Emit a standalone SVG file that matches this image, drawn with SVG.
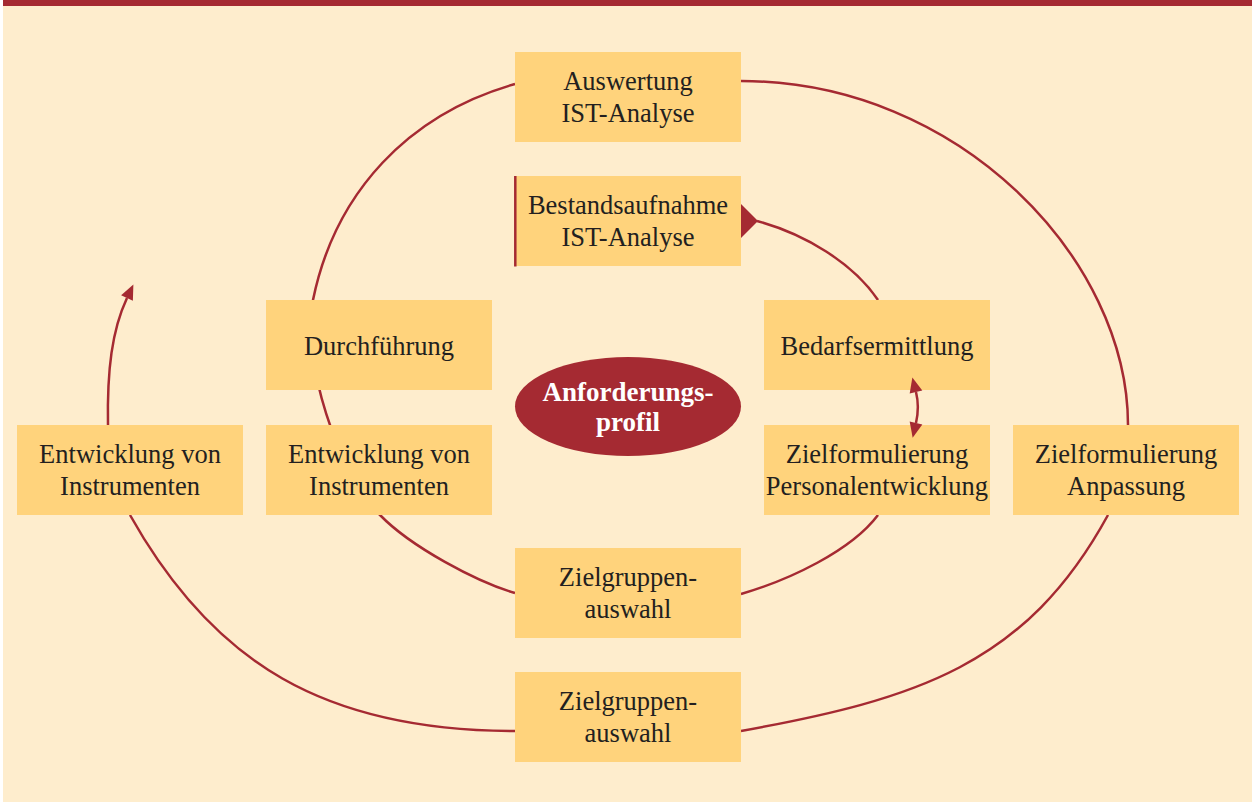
<svg xmlns="http://www.w3.org/2000/svg" width="1255" height="802" viewBox="0 0 1255 802">
  <style>
    .box { fill: #ffd37c; }
    .lbl { font-family: "Liberation Serif", "Times New Roman", serif; font-size: 26.5px; fill: #231f20; text-anchor: middle; }
    .wlbl { font-family: "Liberation Serif", "Times New Roman", serif; font-size: 27px; font-weight: bold; fill: #ffffff; text-anchor: middle; }
    .con { fill: none; stroke: #a52a32; stroke-width: 2.5; }
    .head { fill: #a52a32; }
  </style>
  <defs>
    <marker id="arr" markerUnits="userSpaceOnUse" viewBox="-1 -7 17 14" markerWidth="17" markerHeight="14" refX="0" refY="0" orient="auto-start-reverse" overflow="visible">
      <path d="M0,-6.5 L15,0 L0,6.5 z" fill="#a52a32"/>
    </marker>
  </defs>
  <rect x="0" y="0" width="1255" height="802" fill="#ffffff"/>
  <rect x="3" y="0" width="1249" height="802" fill="#feedcd"/>
  <rect x="3" y="0" width="1249" height="6" fill="#a52a32"/>

  <g id="connectors">
    <path class="con" d="M741,81 C960,81 1128,260 1128,425"/>
    <path class="con" d="M1108,515 C1026,665 917,699 741,731"/>
    <path class="con" d="M515,731 C325,731 213,663 130,515"/>
    <path class="con" d="M108,425 C107,370 112,330 127,298" marker-end="url(#arr)"/>
    <path class="con" d="M515,84 C409,114 335,192 313,300 C301,359 338,473 380,515 C411,547 477,582 515,593"/>
    <path class="con" d="M741,594 C789,580 851,551 878,515"/>
    <path class="con" d="M757,221 C805,234 853,263 878,300"/>
    <polygon class="head" points="740,203 758,221 740,239"/>
  </g>

  <g id="n-auswertung">
    <rect class="box" x="515" y="52" width="226" height="90"/>
    <text class="lbl" x="628" y="90">Auswertung</text>
    <text class="lbl" x="628" y="122">IST-Analyse</text>
  </g>
  <g id="n-bestandsaufnahme">
    <rect class="box" x="515" y="176" width="226" height="90"/>
    <line x1="515.3" y1="176" x2="515.3" y2="266.5" stroke="#a52a32" stroke-width="2.5"/>
    <text class="lbl" x="628" y="214">Bestandsaufnahme</text>
    <text class="lbl" x="628" y="246">IST-Analyse</text>
  </g>
  <g id="n-durchfuehrung">
    <rect class="box" x="266" y="300" width="226" height="90"/>
    <text class="lbl" x="379" y="355">Durchführung</text>
  </g>
  <g id="n-bedarfsermittlung">
    <rect class="box" x="764" y="300" width="226" height="90"/>
    <text class="lbl" x="877" y="355">Bedarfsermittlung</text>
  </g>
  <g id="n-anforderungsprofil">
    <ellipse cx="628" cy="406.5" rx="113" ry="49.5" fill="#a52a32"/>
    <text class="wlbl" x="628" y="401">Anforderungs-</text>
    <text class="wlbl" x="628" y="431">profil</text>
  </g>
  <g id="n-entwicklung-aussen">
    <rect class="box" x="17" y="425" width="226" height="90"/>
    <text class="lbl" x="130" y="463">Entwicklung von</text>
    <text class="lbl" x="130" y="495">Instrumenten</text>
  </g>
  <g id="n-entwicklung-innen">
    <rect class="box" x="266" y="425" width="226" height="90"/>
    <text class="lbl" x="379" y="463">Entwicklung von</text>
    <text class="lbl" x="379" y="495">Instrumenten</text>
  </g>
  <g id="n-zielformulierung-pe">
    <rect class="box" x="764" y="425" width="226" height="90"/>
    <text class="lbl" x="877" y="463">Zielformulierung</text>
    <text class="lbl" x="877" y="495">Personalentwicklung</text>
  </g>
  <g id="n-zielformulierung-anpassung">
    <rect class="box" x="1013" y="425" width="226" height="90"/>
    <text class="lbl" x="1126" y="463">Zielformulierung</text>
    <text class="lbl" x="1126" y="495">Anpassung</text>
  </g>
  <g id="n-zielgruppen-innen">
    <rect class="box" x="515" y="548" width="226" height="90"/>
    <text class="lbl" x="628" y="586">Zielgruppen-</text>
    <text class="lbl" x="628" y="618">auswahl</text>
  </g>
  <g id="n-zielgruppen-aussen">
    <rect class="box" x="515" y="672" width="226" height="90"/>
    <text class="lbl" x="628" y="710">Zielgruppen-</text>
    <text class="lbl" x="628" y="742">auswahl</text>
  </g>

  <g id="connectors-front">
    <path class="con" d="M916,392 C918.5,402 918.5,412 916,423" marker-start="url(#arr)" marker-end="url(#arr)"/>
  </g>
</svg>
